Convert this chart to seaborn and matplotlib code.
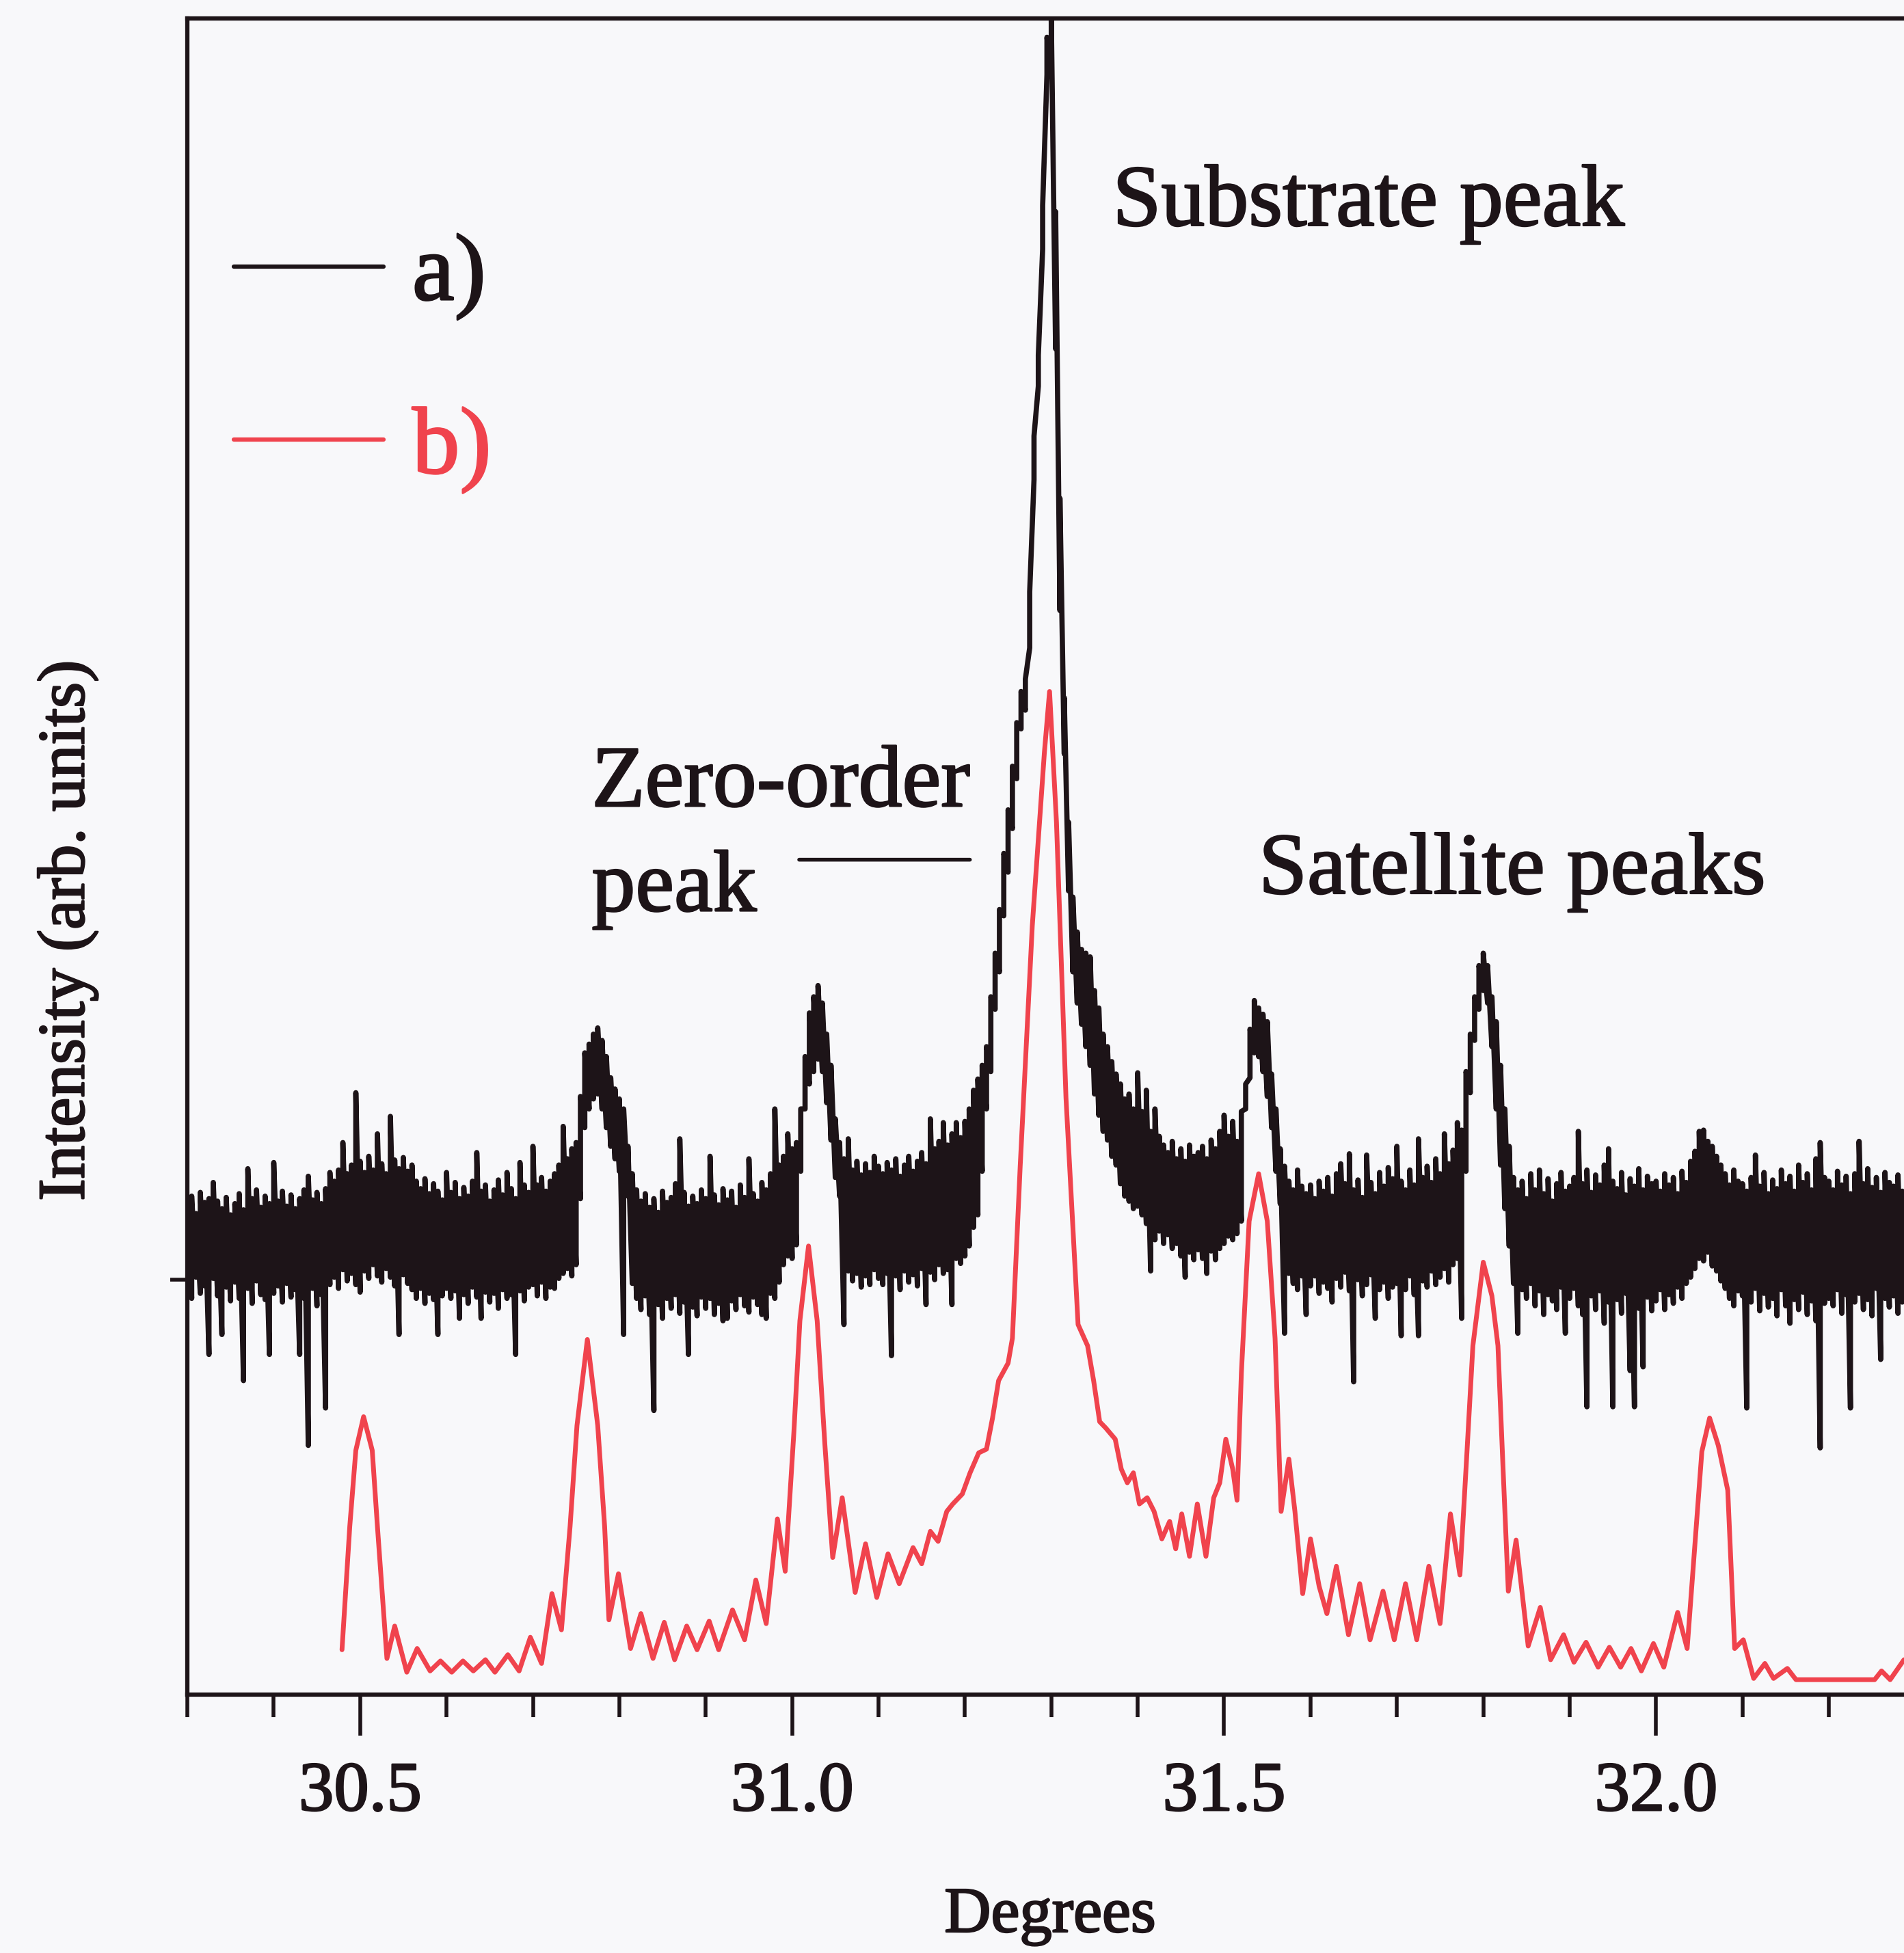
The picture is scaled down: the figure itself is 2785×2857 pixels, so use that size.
import numpy as np
import pandas as pd
import matplotlib
matplotlib.use("Agg")
import matplotlib.pyplot as plt
import matplotlib.patheffects as pe
from matplotlib.ticker import MultipleLocator
import seaborn as sns

# b) simulated pattern (degrees, arb. units)
red_x = [30.479, 30.488, 30.495, 30.504, 30.514, 30.520, 30.531,
         30.540, 30.554, 30.566, 30.581, 30.593, 30.606, 30.619, 30.631,
         30.645, 30.656, 30.671, 30.684, 30.697, 30.710, 30.722, 30.733,
         30.743, 30.751, 30.763, 30.775, 30.783, 30.788,
         30.799, 30.813, 30.825, 30.839, 30.852, 30.864, 30.878, 30.890,
         30.904, 30.915, 30.931, 30.945, 30.958, 30.970, 30.983, 30.992,
         31.002, 31.009, 31.019, 31.029, 31.038,
         31.047, 31.058, 31.073, 31.085, 31.098, 31.111, 31.124, 31.140, 31.150,
         31.160, 31.169, 31.179, 31.186, 31.197, 31.206, 31.216, 31.225,
         31.232, 31.239, 31.250, 31.255,
         31.264, 31.278, 31.292, 31.298, 31.306, 31.317, 31.331,
         31.342, 31.349, 31.356, 31.363, 31.374, 31.381, 31.388, 31.395,
         31.402, 31.411, 31.419, 31.428, 31.437, 31.444, 31.451, 31.460,
         31.469, 31.479, 31.488, 31.495, 31.502, 31.510, 31.515,
         31.520, 31.529, 31.540, 31.550, 31.559,
         31.566, 31.575, 31.582, 31.591, 31.600, 31.610, 31.619, 31.630,
         31.644, 31.657, 31.669, 31.684, 31.697, 31.710, 31.723, 31.737,
         31.750, 31.762, 31.773,
         31.781, 31.788, 31.800, 31.810, 31.817, 31.823,
         31.829, 31.838, 31.852, 31.866, 31.878, 31.893, 31.905, 31.919,
         31.933, 31.946, 31.959, 31.971, 31.983, 31.997, 32.009, 32.025, 32.036,
         32.046, 32.053, 32.062, 32.072, 32.083,
         32.091, 32.101, 32.113, 32.126, 32.136, 32.152, 32.162, 32.253,
         32.261, 32.271, 32.287]
red_y = [36, 135, 196, 223, 196, 135, 29,
         55, 18, 37, 19, 27, 18, 27, 19,
         28, 18, 32, 19, 46, 25, 81, 52,
         135, 216, 285, 216, 135, 60,
         97, 37, 65, 29, 58, 28, 55, 36,
         59, 36, 68, 44, 92, 57, 141, 99,
         210, 300, 360, 300, 200,
         110, 158, 82, 121, 78, 113, 89, 118, 105,
         131, 123, 147, 153, 161, 178, 194, 197,
         222, 252, 266, 286,
         424, 617, 756, 805, 700, 479, 297,
         280, 252, 219, 214, 205, 181, 170, 178,
         153, 158, 147, 125, 139, 117, 145, 111,
         153, 111, 158, 170, 205, 181, 156,
         258, 380, 418, 380, 286,
         147, 189, 147, 81, 125, 87, 65, 103,
         48, 89, 44, 83, 44, 89, 44, 103,
         57, 145, 96,
         193, 280, 347, 320, 280, 180,
         83, 124, 39, 70, 28, 48, 26, 42,
         22, 38, 22, 37, 19, 41, 22, 66, 37,
         130, 195, 222, 200, 164,
         37, 44, 13, 25, 13, 21, 12, 12,
         19, 12, 28]

# a) measured scan: noisy trace, kept as its low/high extent every 0.005 deg
black_start = 30.30
black_step = 0.005
black_hi = [
    392, 400, 386, 403, 395, 398, 411, 396, 390, 399, 385, 394, 402, 389, 422, 398, 405, 391, 400, 394,  # 30.30
    427, 396, 404, 392, 401, 390, 398, 405, 416, 397, 403, 394, 406, 419, 412, 421, 443, 418, 425, 483,  # 30.40
    428, 419, 432, 421, 450, 426, 418, 464, 429, 422, 431, 420, 425, 412, 406, 414, 402, 410, 404, 397,  # 30.50
    419, 403, 411, 398, 407, 400, 412, 435, 404, 409, 396, 405, 413, 401, 419, 406, 398, 427, 409, 403,  # 30.60
    440, 409, 415, 404, 412, 418, 425, 456, 430, 438, 443, 480, 515, 522, 530, 535, 525, 512, 495, 486,  # 30.70
    478, 470, 440, 418, 405, 396, 402, 391, 398, 387, 404, 395, 399, 410, 446, 403, 392, 400, 394, 405,  # 30.80
    398, 432, 401, 393, 406, 397, 404, 391, 409, 399, 430, 402, 396, 411, 405, 418, 470, 425, 432, 450,  # 30.90
    438, 443, 470, 512, 547, 560, 569, 555, 530, 505, 462, 443, 430, 446, 421, 428, 417, 426, 419, 432,  # 31.00
    424, 418, 427, 421, 430, 416, 425, 432, 420, 428, 435, 426, 462, 438, 444, 459, 441, 450, 459, 447,  # 31.10
    460, 470, 485, 494, 505, 520, 560, 595, 630, 675, 710, 745, 780, 805, 815, 885, 1010, 1075, 1195, 1330,  # 31.20
    1345, 1190, 960, 800, 700, 640, 612, 598, 595, 592, 565, 551, 530, 520, 508, 498, 490, 478, 482, 470,  # 31.30
    499, 468, 485, 452, 470, 448, 441, 435, 444, 430, 438, 428, 441, 432, 435, 440, 430, 445, 438, 452,  # 31.40
    465, 448, 460, 444, 468, 490, 534, 557, 551, 546, 540, 498, 470, 438, 424, 412, 405, 421, 408, 402,  # 31.50
    409, 398, 412, 404, 415, 400, 418, 426, 410, 434, 405, 413, 399, 433, 411, 402, 419, 408, 423, 414,  # 31.60
    440, 412, 405, 421, 409, 446, 415, 424, 411, 430, 418, 450, 426, 437, 459, 453, 500, 530, 560, 585,  # 31.70
    595, 585, 560, 540, 505, 470, 440, 415, 405, 412, 398, 418, 405, 421, 402, 414, 396, 410, 419, 404,  # 31.80
    408, 415, 452, 410, 421, 403, 417, 409, 425, 438, 412, 406, 419, 401, 414, 408, 422, 405, 416, 410,  # 31.90
    412, 404, 418, 409, 415, 402, 420, 411, 428, 436, 452, 453, 444, 440, 432, 425, 418, 409, 421, 412,  # 32.00
    410, 404, 415, 433, 408, 419, 402, 413, 406, 421, 410, 416, 404, 425, 411, 418, 405, 430, 443, 415,  # 32.10
    412, 405, 420, 409, 416, 402, 418, 444, 410, 422, 407, 415, 403, 419, 411, 408, 417, 404, 412,       # 32.20
]
black_lo = [
    330, 318, 335, 322, 328, 273, 334, 320, 289, 327, 316, 331, 318, 252, 326, 314, 332, 321, 317, 273,  # 30.30
    322, 328, 315, 330, 319, 325, 273, 318, 200, 326, 312, 321, 230, 329, 335, 326, 341, 332, 338, 329,  # 30.40
    323, 340, 334, 345, 336, 331, 342, 335, 328, 289, 337, 330, 325, 318, 326, 314, 322, 317, 289, 320,  # 30.50
    326, 318, 324, 302, 321, 314, 327, 319, 302, 323, 315, 322, 310, 325, 318, 321, 273, 324, 316, 327,  # 30.60
    329, 320, 331, 318, 327, 326, 334, 338, 342, 336, 345, 398, 455, 470, 478, 482, 470, 455, 440, 430,  # 30.70
    420, 289, 400, 330, 318, 309, 320, 305, 228, 313, 302, 318, 310, 321, 306, 315, 273, 311, 304, 319,  # 30.80
    310, 318, 305, 314, 300, 302, 316, 309, 321, 312, 307, 319, 313, 305, 302, 322, 318, 331, 345, 352,  # 30.90
    350, 361, 420, 470, 490, 500, 510, 500, 475, 445, 415, 400, 297, 340, 332, 338, 327, 336, 329, 341,  # 31.00
    334, 329, 338, 272, 336, 325, 340, 331, 337, 328, 342, 313, 339, 333, 345, 338, 341, 313, 350, 346,  # 31.10
    352, 360, 375, 385, 420, 470, 500, 550, 580, 625, 660, 695, 735, 775, 790, 840, 975, 1050, 1160, 1300,  # 31.20
    1300, 1080, 870, 755, 645, 580, 555, 538, 520, 505, 482, 465, 452, 445, 432, 425, 410, 400, 396, 390,  # 31.30
    392, 385, 378, 340, 365, 372, 362, 369, 358, 362, 352, 335, 355, 349, 357, 350, 338, 356, 349, 358,  # 31.40
    362, 368, 365, 370, 380, 470, 495, 515, 512, 500, 480, 455, 420, 394, 290, 338, 330, 325, 336, 305,  # 31.50
    328, 336, 322, 331, 326, 315, 334, 327, 339, 324, 251, 333, 320, 329, 337, 302, 325, 331, 318, 327,  # 31.60
    330, 288, 325, 336, 321, 288, 332, 327, 340, 329, 335, 342, 331, 345, 350, 302, 420, 483, 525, 550,  # 31.70
    565, 555, 520, 470, 425, 390, 360, 330, 290, 325, 318, 330, 312, 324, 305, 321, 316, 309, 327, 290,  # 31.80
    318, 326, 312, 305, 231, 320, 309, 324, 298, 315, 231, 317, 306, 322, 260, 231, 310, 263, 319, 308,  # 31.90
    316, 325, 309, 321, 314, 327, 318, 330, 335, 342, 350, 348, 355, 344, 340, 332, 326, 318, 312, 324,  # 32.00
    320, 230, 315, 326, 308, 322, 311, 318, 304, 325, 312, 298, 317, 309, 323, 305, 316, 300, 198, 314,  # 32.10
    318, 312, 325, 306, 321, 230, 315, 322, 309, 317, 304, 326, 269, 318, 311, 320, 306, 315, 322,       # 32.20
]

major_ticks = [30.5, 31.0, 31.5, 32.0]
major_labels = ["30.5", "31.0", "31.5", "32.0"]

INK = "#1d1418"
RED = "#f0434d"
BG = "#f8f8fa"

sns.set_style("ticks")
plt.rcParams["font.family"] = ["Liberation Serif", "DejaVu Serif"]
plt.rcParams["text.color"] = INK
plt.rcParams["axes.labelcolor"] = INK

assert len(red_x) == len(red_y)
assert len(black_hi) == len(black_lo)

bx = np.round(black_start + black_step * np.arange(len(black_hi)), 3)
black = pd.DataFrame({"deg": np.repeat(bx, 2),
                      "val": np.column_stack([black_lo, black_hi]).ravel()})
red = pd.DataFrame({"deg": red_x, "val": red_y})

fig = plt.figure(figsize=(27.85, 28.57), dpi=100, facecolor=BG)
ax = fig.add_axes([0.0984, 0.1323, 0.9016, 0.8582])
ax.set_facecolor(BG)

sns.lineplot(data=black, x="deg", y="val", sort=False, estimator=None,
             color=INK, linewidth=5.5, label="a)", ax=ax, zorder=2)
sns.lineplot(data=red, x="deg", y="val", sort=False, estimator=None,
             color=RED, linewidth=5.0, label="b)", ax=ax, zorder=3)

ax.set_xlim(30.3, 32.287)
ax.set_ylim(0, 1345)
ax.set_xticks(major_ticks)
ax.set_xticklabels(major_labels)
ax.xaxis.set_minor_locator(MultipleLocator(0.1))
ax.set_yticks([333])
ax.set_yticklabels([])
ax.tick_params(axis="x", which="major", direction="out", length=43, width=4,
               pad=27, labelsize=74, color=INK, labelcolor=INK)
ax.tick_params(axis="x", which="minor", direction="out", length=24, width=4, color=INK)
ax.tick_params(axis="y", direction="out", length=18, width=4, color=INK)
for s in ["left", "bottom", "top"]:
    ax.spines[s].set_linewidth(4.5)
    ax.spines[s].set_color(INK)
ax.spines["right"].set_visible(False)

ax.set_xlabel("Degrees", fontsize=68)
ax.set_ylabel("Intensity (arb. units)", fontsize=70)
ax.xaxis.set_label_coords(0.5026, -0.115)
ax.yaxis.set_label_coords(-0.052, 0.456)

leg = ax.legend(loc="upper left", bbox_to_anchor=(0.027, 0.872), frameon=False,
                fontsize=100, handlelength=1.58, handletextpad=0.3,
                labelspacing=0.91, borderpad=0, borderaxespad=0)
for t, c in zip(leg.get_texts(), [INK, RED]):
    t.set_color(c)
    t.set_path_effects([pe.withStroke(linewidth=2, foreground=c)])
for h in leg.get_lines():
    h.set_linewidth(4.5)

notes = [
    ax.text(31.371, 1179, "Substrate peak", fontsize=92, va="baseline"),
    ax.text(30.768, 713, "Zero-order", fontsize=92, va="baseline"),
    ax.text(30.768, 629, "peak", fontsize=92, va="baseline"),
    ax.text(31.540, 643, "Satellite peaks", fontsize=92, va="baseline"),
]
ax.annotate("", xy=(31.208, 670), xytext=(31.006, 670),
            arrowprops=dict(arrowstyle="-", lw=4, color=INK))

bold = [pe.withStroke(linewidth=1.8, foreground=INK)]
for t in notes + ax.get_xticklabels() + [ax.xaxis.label, ax.yaxis.label]:
    t.set_path_effects(bold)

fig.savefig("out.png", dpi=100, facecolor=BG)
